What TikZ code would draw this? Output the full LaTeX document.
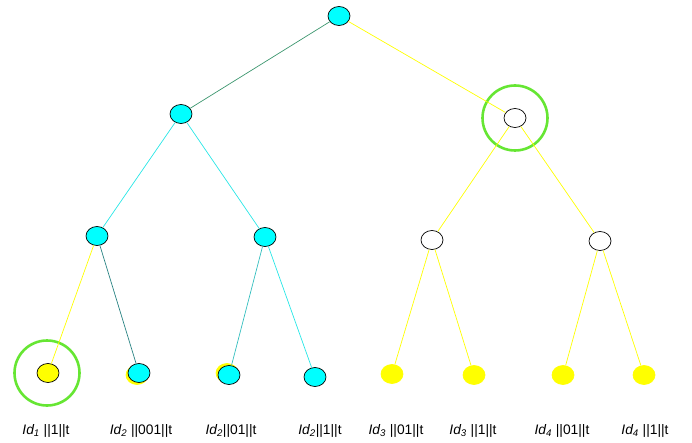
\documentclass[tikz,border=0pt]{standalone}
\usepackage{fontspec}
\setmainfont{Liberation Sans}
\usetikzlibrary{shapes.geometric}
\definecolor{dkgreen}{RGB}{60,150,110}
\definecolor{dkteal}{RGB}{40,130,130}
\definecolor{mdteal}{RGB}{50,190,190}
\definecolor{yel}{RGB}{255,255,0}
\definecolor{cyn}{RGB}{40,230,230}
\definecolor{cyfill}{RGB}{0,255,255}
\definecolor{ringgreen}{RGB}{102,230,51}
\begin{document}
\begin{tikzpicture}[x=1pt,y=-1pt,
  nd/.style={ellipse, draw=black, line width=0.7pt, minimum width=22pt, minimum height=19pt, inner sep=0pt},
  cy/.style={nd, fill=cyfill},
  wh/.style={nd, fill=white},
  yl/.style={nd, fill=yel, draw=yel},
  lbl/.style={font=\fontsize{13.8}{16}\selectfont, inner sep=0pt, anchor=base},
  ring/.style={circle, draw=ringgreen, line width=2.6pt, minimum size=65pt, inner sep=0pt},
  eg/.style={line width=0.7pt}
]
\useasboundingbox (0,0) rectangle (692,443);
% rings
\node[ring] (r1) at (47,373) {};
\node[ring] (r2) at (515,118) {};
% nodes
\node[cy] (root) at (339,16) {};
\node[cy] (a) at (181,114) {};
\node[wh] (b) at (515,118) {};
\node[cy] (a1) at (97,236) {};
\node[cy] (a2) at (265,237) {};
\node[wh] (b1) at (432,240) {};
\node[wh] (b2) at (600,241) {};
% yellow shadows under leaves 2,3
\node[yl] (s2) at (137,375) {};
\node[yl] (s3) at (227,373) {};
\node[nd, fill=yel] (l1) at (48,373) {};
\node[cy] (l2) at (139,373) {};
\node[cy] (l3) at (229,375) {};
\node[cy] (l4) at (315,377) {};
\node[yl] (l5) at (392,374) {};
\node[yl] (l6) at (474,375) {};
\node[yl] (l7) at (563,375) {};
\node[yl] (l8) at (644,375) {};
% edges
\draw[eg, dkgreen] (root) -- (a);
\draw[eg, yel] (root) -- (b);
\draw[eg, cyn] (a) -- (a1);
\draw[eg, cyn] (a) -- (a2);
\draw[eg, yel] (b) -- (b1);
\draw[eg, yel] (b) -- (b2);
\draw[eg, yel] (a1) -- (l1);
\draw[eg, dkteal] (a1) -- (l2);
\draw[eg, mdteal] (a2) -- (l3);
\draw[eg, cyn] (a2) -- (l4);
\draw[eg, yel] (b1) -- (l5);
\draw[eg, yel] (b1) -- (l6);
\draw[eg, yel] (b2) -- (l7);
\draw[eg, yel] (b2) -- (l8);
% labels
\node[lbl] (t1) at (46,434) {\textit{Id\textsubscript{1}} ||1||t};
\node[lbl] (t2) at (141,434) {\textit{Id\textsubscript{2}} ||001||t};
\node[lbl] (t3) at (231,434) {\textit{Id\textsubscript{2}}||01||t};
\node[lbl] (t4) at (320,434) {\textit{Id\textsubscript{2}}||1||t};
\node[lbl] (t5) at (396,434) {\textit{Id\textsubscript{3}} ||01||t};
\node[lbl] (t6) at (473,434) {\textit{Id\textsubscript{3}} ||1||t};
\node[lbl] (t7) at (562,434) {\textit{Id\textsubscript{4}} ||01||t};
\node[lbl] (t8) at (645,434) {\textit{Id\textsubscript{4}} ||1||t};
\end{tikzpicture}
\end{document}
